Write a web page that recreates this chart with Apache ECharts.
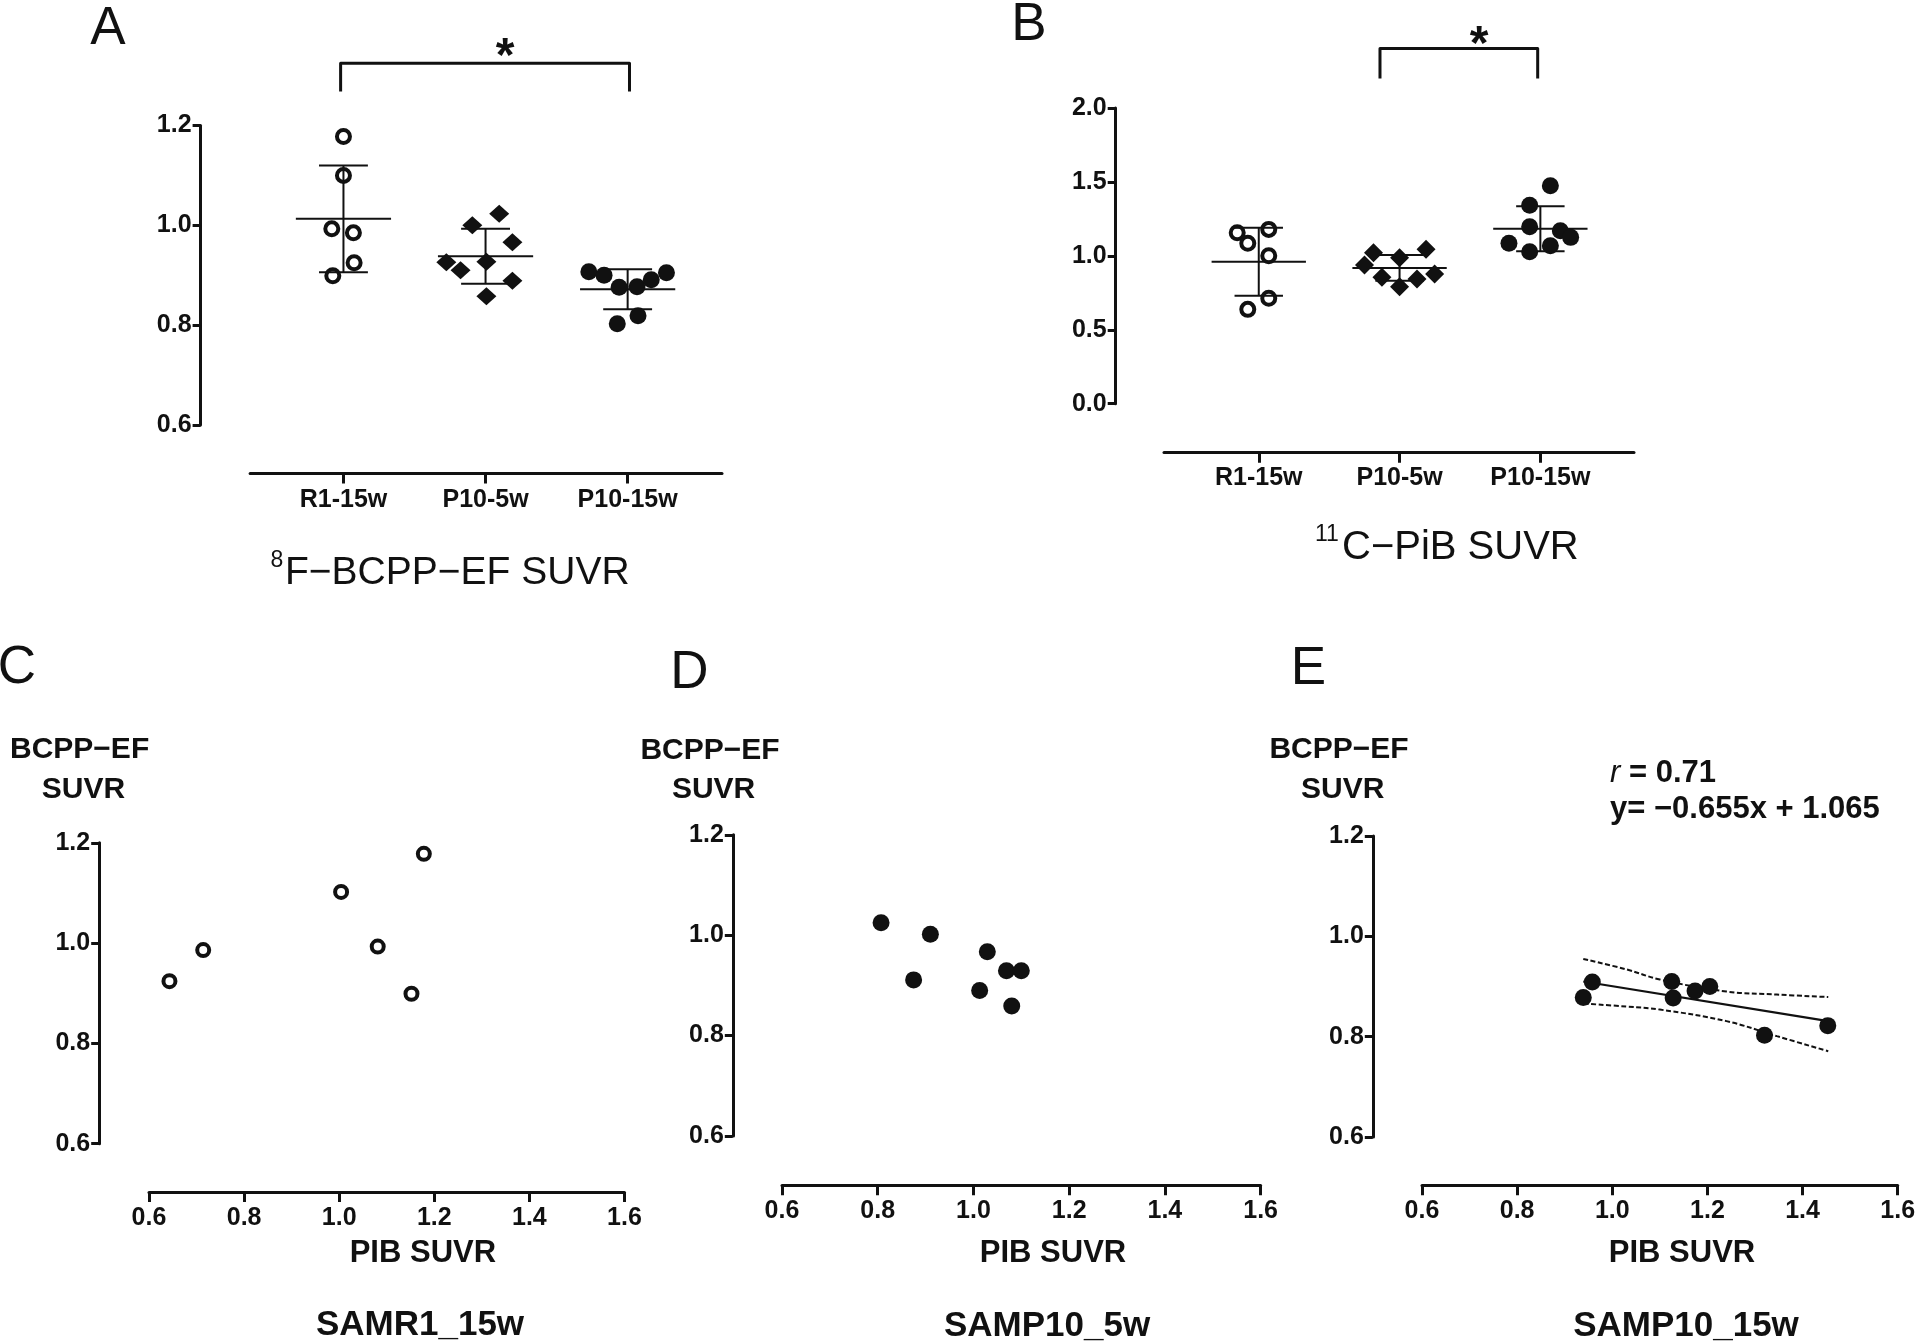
<!DOCTYPE html>
<html>
<head>
<meta charset="utf-8">
<script src="https://cdn.jsdelivr.net/npm/echarts@6/dist/echarts.min.js"></script>
<style>
html,body{margin:0;padding:0;background:#fff;}
#chart{width:1920px;height:1342px;}
</style>
</head>
<body>
<div id="chart"></div>
<script>
// ---------------- DATA ----------------
const groupCategories = ['R1-15w', 'P10-5w', 'P10-15w'];

// Panel A: 18F-BCPP-EF SUVR per group (jitter = horizontal spread in category units)
const bcppR1_15w        = [1.178, 1.100, 0.993, 0.985, 0.925, 0.899];
const bcppR1_15wJitter  = [0, 0, -0.082, 0.070, 0.075, -0.075];
const bcppP10_5w        = [1.023, 1.000, 0.966, 0.926, 0.910, 0.927, 0.889, 0.858];
const bcppP10_5wJitter  = [0.096, -0.093, 0.189, -0.276, -0.176, 0.006, 0.189, 0.006];
const bcppP10_15w       = [0.907, 0.900, 0.876, 0.877, 0.891, 0.905, 0.819, 0.803];
const bcppP10_15wJitter = [-0.273, -0.166, -0.060, 0.066, 0.166, 0.273, 0.073, -0.073];
const bcppMean = [1.013, 0.938, 0.872];
const bcppSD   = [0.107, 0.055, 0.040];

// Panel B: 11C-PiB SUVR per group
const pibR1_15w        = [1.156, 1.085, 1.179, 1.001, 0.713, 0.638];
const pibR1_15wJitter  = [-0.153, -0.078, 0.071, 0.071, 0.071, -0.078];
const pibP10_5w        = [1.021, 0.987, 1.044, 0.938, 0.855, 0.791, 0.843, 0.877];
const pibP10_5wJitter  = [-0.185, 0, 0.188, -0.249, -0.125, 0, 0.124, 0.249];
const pibP10_15w       = [1.474, 1.343, 1.197, 1.170, 1.125, 1.085, 1.068, 1.028];
const pibP10_15wJitter = [0.071, -0.076, -0.076, 0.142, 0.215, -0.223, 0.071, -0.076];
const pibMean = [0.960, 0.918, 1.183];
const pibSD   = [0.230, 0.087, 0.152];

// significance brackets: [fromCat, toCat, barLevel, legEndLevel, starCat, starLevel]
const bracketA = [-0.020, 2.013, 1.3246, 1.268, 1.137, 1.355];
const bracketB = [0.861, 1.981, 2.403, 2.200, 1.564, 2.491];

// Panels C-E: PIB SUVR (x) vs BCPP-EF SUVR (y)
const samr1_15wPib   = [0.643, 0.714, 1.004, 1.081, 1.152, 1.178];
const samr1_15wBcpp  = [0.924, 0.986, 1.102, 0.993, 0.899, 1.178];
const samp10_5wPib   = [0.807, 0.910, 1.029, 0.875, 1.013, 1.069, 1.100, 1.080];
const samp10_5wBcpp  = [1.025, 1.002, 0.967, 0.911, 0.890, 0.929, 0.929, 0.859];
const samp10_15wPib  = [0.939, 0.958, 1.125, 1.128, 1.174, 1.205, 1.320, 1.453];
const samp10_15wBcpp = [0.878, 0.909, 0.910, 0.877, 0.891, 0.900, 0.803, 0.822];

// Panel E regression line and 95% band
const regLineX  = [0.939, 1.454];
const regLineY  = [0.910, 0.831];
const bandUpX   = [0.939, 1.030, 1.100, 1.240, 1.346, 1.454];
const bandUpY   = [0.955, 0.934, 0.914, 0.890, 0.884, 0.879];
const bandLoX   = [0.940, 1.030, 1.100, 1.240, 1.346, 1.454];
const bandLoY   = [0.866, 0.860, 0.854, 0.831, 0.801, 0.771];

// tick values
const yTicksBcpp = [0.6, 0.8, 1.0, 1.2];
const yTicksPib  = [0.0, 0.5, 1.0, 1.5, 2.0];
const xTicksPib  = [0.6, 0.8, 1.0, 1.2, 1.4, 1.6];
const catTicks   = [0, 1, 2];

// ---------------- STYLE ----------------
const FONT = "'Liberation Sans', Arial, Helvetica, sans-serif";
const INK = '#111111';
const MEAN_HALF = 0.335, CAP_HALF = 0.172;
const TICK_FS = 25;

function zipXY(xs, ys) { return xs.map((x, i) => [x, ys[i]]); }
function jittered(cat, vals, jit) { return vals.map((v, i) => [cat + jit[i], v]); }

function yAxisDef(grid, ticks, offset) {
  return {
    type: 'value', gridIndex: grid, min: ticks[0], max: ticks[ticks.length - 1],
    offset: offset, position: 'left',
    axisLine: { show: true, onZero: false, lineStyle: { color: INK, width: 3 } },
    axisTick: { show: true, length: 8, customValues: ticks, lineStyle: { color: INK, width: 3 } },
    axisLabel: { customValues: ticks, margin: 9, color: INK, fontFamily: FONT, fontWeight: 'bold', fontSize: TICK_FS,
                 formatter: v => Number(v).toFixed(1) },
    splitLine: { show: false }
  };
}
function xCatAxisDef(grid, min, max, offset, margin) {
  return {
    type: 'value', gridIndex: grid, min: min, max: max, offset: offset, position: 'bottom',
    axisLine: { show: true, onZero: false, lineStyle: { color: INK, width: 3 } },
    axisTick: { show: true, length: 10, customValues: catTicks, lineStyle: { color: INK, width: 3 } },
    axisLabel: { customValues: catTicks, margin: margin, color: INK, fontFamily: FONT, fontWeight: 'bold', fontSize: TICK_FS,
                 formatter: v => groupCategories[Math.round(v)] },
    splitLine: { show: false }
  };
}
function xValAxisDef(grid, offset, margin) {
  return {
    type: 'value', gridIndex: grid, min: xTicksPib[0], max: xTicksPib[xTicksPib.length - 1],
    offset: offset, position: 'bottom',
    axisLine: { show: true, onZero: false, lineStyle: { color: INK, width: 3 } },
    axisTick: { show: true, length: 10, customValues: xTicksPib, lineStyle: { color: INK, width: 3 } },
    axisLabel: { customValues: xTicksPib, margin: margin, color: INK, fontFamily: FONT, fontWeight: 'bold', fontSize: TICK_FS,
                 formatter: v => Number(v).toFixed(1) },
    splitLine: { show: false }
  };
}

const openCircle = (s) => ({ symbol: 'circle', symbolSize: s, itemStyle: { color: 'rgba(255,255,255,0)', borderColor: INK, borderWidth: 4, opacity: 1 } });
const diamond = (s) => ({ symbol: 'diamond', symbolSize: s, itemStyle: { color: INK, opacity: 1 } });
const dot = (s) => ({ symbol: 'circle', symbolSize: s, itemStyle: { color: INK, opacity: 1 } });

function scatter(grid, data, sym) {
  return Object.assign({ type: 'scatter', xAxisIndex: grid, yAxisIndex: grid, data: data, z: 4, silent: true }, sym);
}

function errorBars(grid, means, sds) {
  return {
    type: 'custom', xAxisIndex: grid, yAxisIndex: grid, z: 3, silent: true, clip: false,
    data: means.map((m, i) => [i, m, sds[i]]),
    renderItem: function (params, api) {
      const c = api.value(0), m = api.value(1), s = api.value(2);
      const st = { stroke: INK, lineWidth: 2 };
      const seg = (a, b) => ({ type: 'line', shape: { x1: a[0], y1: a[1], x2: b[0], y2: b[1] }, style: st });
      return { type: 'group', children: [
        seg(api.coord([c - MEAN_HALF, m]), api.coord([c + MEAN_HALF, m])),
        seg(api.coord([c, m + s]), api.coord([c, m - s])),
        seg(api.coord([c - CAP_HALF, m + s]), api.coord([c + CAP_HALF, m + s])),
        seg(api.coord([c - CAP_HALF, m - s]), api.coord([c + CAP_HALF, m - s]))
      ] };
    }
  };
}

function bracket(grid, b) {
  return {
    type: 'custom', xAxisIndex: grid, yAxisIndex: grid, z: 3, silent: true, clip: false,
    data: [b],
    renderItem: function (params, api) {
      const x0 = api.value(0), x1 = api.value(1), yb = api.value(2), yl = api.value(3);
      const p0 = api.coord([x0, yl]), p1 = api.coord([x0, yb]), p2 = api.coord([x1, yb]), p3 = api.coord([x1, yl]);
      const ps = api.coord([api.value(4), api.value(5)]);
      return { type: 'group', children: [
        { type: 'polyline', shape: { points: [p0, p1, p2, p3] }, style: { stroke: INK, lineWidth: 3, fill: null, lineJoin: 'round' } },
        { type: 'text', x: ps[0], y: ps[1] + 10, style: { text: '*', font: 'bold 48px ' + FONT, fill: INK, align: 'center', verticalAlign: 'middle', textAlign: 'center', textVerticalAlign: 'middle' } }
      ] };
    }
  };
}

function T(text, x, y, size, weight, align) {
  return { type: 'text', x: x, y: y, silent: true,
    style: { text: text, font: (weight || 'normal') + ' ' + size + 'px ' + FONT, fill: INK,
             align: align || 'center', verticalAlign: 'middle', textAlign: align || 'center', textVerticalAlign: 'middle' } };
}

const option = {
  animation: false,
  backgroundColor: '#ffffff',
  grid: [
    { left: 250.1, top: 125.5, width: 471.9, height: 299.5, outerBoundsMode: 'none' },
    { left: 1164, top: 108, width: 470, height: 295.7, outerBoundsMode: 'none' },
    { left: 149, top: 842.8, width: 475.5, height: 300.9, outerBoundsMode: 'none' },
    { left: 782, top: 834.8, width: 478.6, height: 301.2, outerBoundsMode: 'none' },
    { left: 1422, top: 836, width: 475.7, height: 301, outerBoundsMode: 'none' }
  ],
  xAxis: [
    xCatAxisDef(0, -0.657, 2.664, 48.4, 14),
    xCatAxisDef(1, -0.673, 2.665, 49, 13),
    xValAxisDef(2, 48.3, 14),
    xValAxisDef(3, 49.3, 13),
    xValAxisDef(4, 48.3, 13)
  ],
  yAxis: [
    yAxisDef(0, yTicksBcpp, 49.5),
    yAxisDef(1, yTicksPib, 48.3),
    yAxisDef(2, yTicksBcpp, 49.8),
    yAxisDef(3, yTicksBcpp, 49.2),
    yAxisDef(4, yTicksBcpp, 49.2)
  ],
  series: [
    // Panel A
    errorBars(0, bcppMean, bcppSD),
    scatter(0, jittered(0, bcppR1_15w, bcppR1_15wJitter), openCircle(13)),
    scatter(0, jittered(1, bcppP10_5w, bcppP10_5wJitter), diamond([20, 18])),
    scatter(0, jittered(2, bcppP10_15w, bcppP10_15wJitter), dot(17)),
    bracket(0, bracketA),
    // Panel B
    errorBars(1, pibMean, pibSD),
    scatter(1, jittered(0, pibR1_15w, pibR1_15wJitter), openCircle(13)),
    scatter(1, jittered(1, pibP10_5w, pibP10_5wJitter), diamond(19)),
    scatter(1, jittered(2, pibP10_15w, pibP10_15wJitter), dot(17)),
    bracket(1, bracketB),
    // Panel C
    scatter(2, zipXY(samr1_15wPib, samr1_15wBcpp), openCircle(12)),
    // Panel D
    scatter(3, zipXY(samp10_5wPib, samp10_5wBcpp), dot(17)),
    // Panel E
    { type: 'line', xAxisIndex: 4, yAxisIndex: 4, data: zipXY(bandUpX, bandUpY), symbol: 'none', smooth: 0.4, silent: true, z: 2,
      lineStyle: { color: INK, width: 2, type: [5, 2.5] } },
    { type: 'line', xAxisIndex: 4, yAxisIndex: 4, data: zipXY(bandLoX, bandLoY), symbol: 'none', smooth: 0.4, silent: true, z: 2,
      lineStyle: { color: INK, width: 2, type: [5, 2.5] } },
    { type: 'line', xAxisIndex: 4, yAxisIndex: 4, data: zipXY(regLineX, regLineY), symbol: 'none', silent: true, z: 2,
      lineStyle: { color: INK, width: 2.2 } },
    scatter(4, zipXY(samp10_15wPib, samp10_15wBcpp), dot(17))
  ],
  graphic: [
    T('A', 108, 29, 53), T('B', 1029, 25, 53),
    T('C', 17, 668, 53), T('D', 689.5, 673, 53), T('E', 1308.5, 669, 53),
    T('8', 270.5, 561, 23, 'normal', 'left'), T('F\u2212BCPP\u2212EF SUVR', 285, 573, 39, 'normal', 'left'),
    T('11', 1315, 535, 23, 'normal', 'left'), T('C\u2212PiB SUVR', 1342, 548, 40, 'normal', 'left'),
    T('BCPP\u2212EF', 79.6, 749.7, 30, 'bold'), T('SUVR', 83.5, 790, 30, 'bold'),
    T('BCPP\u2212EF', 710, 750.8, 30, 'bold'), T('SUVR', 713.6, 789.3, 30, 'bold'),
    T('BCPP\u2212EF', 1339, 750.1, 30, 'bold'), T('SUVR', 1342.7, 789.5, 30, 'bold'),
    T('PIB SUVR', 422.9, 1253, 31, 'bold'), T('PIB SUVR', 1053, 1253, 31, 'bold'), T('PIB SUVR', 1682, 1253, 31, 'bold'),
    T('SAMR1_15w', 420, 1325, 35, 'bold'), T('SAMP10_5w', 1047, 1326, 35, 'bold'), T('SAMP10_15w', 1686, 1326, 35, 'bold'),
    { type: 'text', x: 1610, y: 773.5, silent: true,
      style: { text: '{i|r}{n| = 0.71}', align: 'left', verticalAlign: 'middle', textAlign: 'left', textVerticalAlign: 'middle', fill: INK,
               font: 'bold 31px ' + FONT,
               rich: { i: { fontFamily: FONT, fontSize: 31, fontWeight: 'normal', fontStyle: 'italic', fill: INK, color: INK },
                       n: { fontFamily: FONT, fontSize: 31, fontWeight: 'bold', fill: INK, color: INK } } } },
    T('y= \u22120.655x + 1.065', 1610, 809, 31, 'bold', 'left')
  ]
};

const chart = echarts.init(document.getElementById('chart'), null, { renderer: 'canvas' });
chart.setOption(option);
</script>
</body>
</html>
